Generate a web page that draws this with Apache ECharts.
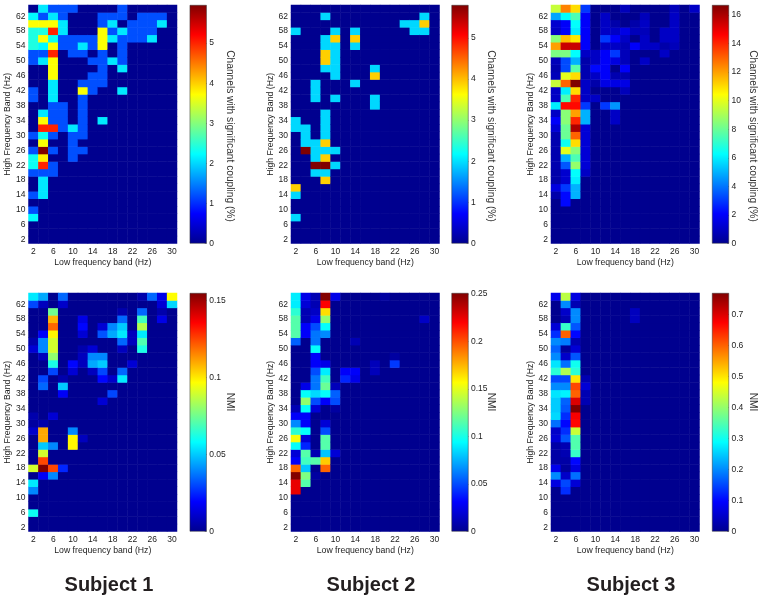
<!DOCTYPE html>
<html><head><meta charset="utf-8">
<style>html,body{margin:0;padding:0;background:#fff}#c{width:762px;height:600px}</style>
<script src="https://cdn.jsdelivr.net/npm/echarts@6/dist/echarts.min.js"></script>
</head><body><div id="c"></div>
<script>
// Each row: [high band, low band, value, low band, value, ...]; unlisted cells are 0.
const lowBands = [2,4,6,8,10,12,14,16,18,20,22,24,26,28,30];
const highBands = [2,4,6,8,10,12,14,16,18,20,22,24,26,28,30,32,34,36,38,40,42,44,46,48,50,52,54,56,58,60,62,64];
const subjects = ['Subject 1','Subject 2','Subject 3'];
const couplingTitle = 'Channels with significant coupling (%)';
const nmiTitle = 'NMI';
const couplingS1 = [
[64,4,2.1,6,1.2,8,1.2,10,1.2,20,1.2],[62,2,2.2,4,1.2,6,2.1,8,1.2,16,1.2,18,1.2,20,1.2,24,1.2,26,1.2,28,1.2],
[60,2,3.7,4,3.7,6,3.7,8,2.1,16,1.2,18,2.1,22,1.2,24,1.2,26,1.2,28,2.1],[58,2,2.4,4,2.4,6,5,8,2.1,16,3.7,18,1.2,20,2.1,22,1.2,24,1.2,26,1.2],
[56,2,2.4,4,3.7,6,2.3,8,1.2,10,1.2,12,1.2,14,1.2,16,3.7,18,2.1,20,1.2,22,1.2,24,1.2,26,2.1],[54,2,2.4,4,2.2,6,3.7,8,1.2,10,1.2,12,2.1,14,1.2,16,3.7,20,1.2],
[52,2,1.2,4,1.2,6,5,10,1.2,12,1.2,16,1.2,20,1.2],[50,2,1.2,4,2.1,6,3.7,14,1.2,16,1.2,18,2.1,20,1.2],[48,6,3.7,16,1.2,20,2.1],[46,6,3.7,14,1.2,16,1.2],
[44,6,2.1,12,1.2,14,1.2,16,1.2],[42,2,1.2,6,2.1,12,3.7,14,1.2,20,2.1],[40,2,1.2,6,2.1,12,1.2],[38,6,1.2,8,1.2,12,1.2],[36,4,2.1,6,1.2,8,1.2,12,1.2],
[34,4,3.7,6,1.2,8,1.2,12,1.2,16,2.1],[32,4,5,6,5,8,1.2,10,2.1,12,1.2],[30,2,1.2,4,2.3,6,1.2,10,1.2,12,1.2],[28,4,3.7,10,1.2],[26,2,1.2,4,5.95,6,1.2,10,1.2,12,1.2],
[24,2,2.3,4,3.8,10,1.2],[22,2,2.3,4,5,6,1.2],[20,2,1.2,4,1.2,6,1.2],[18,4,2.1],[16,4,2.1],[14,2,1.2,4,2.1],[10,2,1.2],[8,2,2.2]];
const couplingS2 = [
[62,8,1.95,28,1.95],[60,24,1.95,26,1.95,28,3.9],[58,2,1.95,10,1.95,14,1.95,26,1.95,28,1.95],[56,8,1.95,10,3.9,14,3.9],[54,8,1.95,10,1.95,14,1.95],
[52,8,3.9,10,1.95],[50,8,3.9,10,1.95],[48,8,1.95,10,1.95,18,1.95],[46,10,1.95,18,3.9],[44,6,1.95,14,1.95],[42,6,1.95],[40,6,1.95,10,1.95,18,1.95],
[38,18,1.95],[36,8,1.95],[34,2,1.95,8,1.95],[32,2,1.95,4,1.95,8,1.95],[30,4,1.95,8,1.95],[28,4,1.95,6,1.95,8,3.9],[26,4,5.8,6,1.95,8,1.95,10,1.95],
[24,6,1.95,8,3.9],[22,6,5.8,8,5.8,10,1.95],[20,6,1.95,8,1.95],[18,8,3.9],[16,2,3.9],[14,2,1.95],[8,2,1.95]];
const couplingS3 = [
[64,2,9.5,4,12.5,6,11,8,3,16,.8,26,.8,30,1],[62,2,4.8,4,6.3,6,7.5,8,2,12,1,20,.8,26,1],[60,2,1.2,4,2,6,6.3,8,2,12,1,14,.5,18,.5,20,1,26,1],
[58,2,1,4,2,6,6,8,2,12,1,14,1,16,1.6,18,.8,20,.8,24,1,26,1],[56,2,8.5,4,11.5,6,10.8,8,2,12,3,14,2,16,1,20,1,24,1,26,1],
[54,2,12,4,15.5,6,15.5,8,2,12,1,14,1,16,.7,18,2,20,1,22,1,24,.5,26,.8],[52,2,8.3,4,8.3,6,6.3,8,1,10,1,12,2,14,3,16,.8,24,1],
[50,2,.8,4,3.3,6,5,8,.5,10,1,12,2,14,1.5,16,.8,20,1],[48,2,.6,4,3.3,6,7.7,8,.6,10,2.2,12,2,16,2],[46,2,.8,4,10,6,11,8,.6,10,1,12,2,14,.6,16,.6],
[44,2,9.5,4,13,6,16.7,8,1,10,.5,12,1.6,14,1.6,16,1.6],[42,2,1,4,6,6,11,8,1,16,.8],[40,2,1,4,7.5,6,14,8,1,10,1],[38,2,6,4,14.5,6,14.5,8,3,12,3,14,4.5],
[36,2,1,4,8.5,6,12,8,5,14,1],[34,2,2,4,8.5,6,14,8,5,14,1],[32,2,1.3,4,8,6,16,8,1.3],[30,2,.6,4,8,6,13,8,1.3],[28,2,.6,4,6.5,6,11,8,1.3],
[26,2,.6,4,10,6,8.5,8,1.3],[24,2,.6,4,5,6,7.5,8,1.3],[22,2,.6,4,3.5,6,8.7,8,1.3],[20,2,.5,4,1.2,6,6.3,8,1],[18,2,.5,4,1.2,6,6],[16,2,1.5,4,3,6,5],[14,2,.5,4,2.2,6,5],[12,4,2.2]];
const nmiS1 = [
[64,2,.055,4,.045,8,.035,24,.005,26,.035,28,.015,30,.097],[62,2,.03,4,.008,8,.01,28,.012,30,.052],[60,6,.075,20,.005,24,.035,28,.005],
[58,6,.108,12,.015,20,.035,24,.068,28,.015],[56,6,.12,12,.02,16,.012,18,.04,20,.05,24,.085],[54,4,.018,6,.098,12,.012,16,.032,18,.045,20,.055,22,.008,24,.055],
[52,2,.005,4,.04,6,.09,20,.035,22,.008,24,.07],[50,2,.012,4,.04,6,.09,12,.005,14,.012,20,.008,24,.062],[48,4,.008,6,.08,12,.008,14,.04,16,.04],
[46,6,.062,10,.02,12,.008,14,.045,16,.05,22,.012],[44,6,.03,10,.012,14,.008,16,.03,20,.035],[42,4,.03,8,.005,16,.02,18,.01,20,.055],[40,4,.035,8,.05],[38,8,.018,18,.03],[36,16,.012],
[32,2,.005,6,.012],[30,2,.003,4,.005],[28,2,.01,4,.11,10,.04],[26,4,.11,10,.098,12,.008],[24,4,.05,6,.04,10,.098],[22,4,.09],[20,4,.125],[18,2,.09,4,.155,6,.125,8,.025],
[16,4,.018,6,.04],[14,2,.055],[12,2,.04],[6,2,.06]];
const nmiS2 = [
[64,2,.09,4,.025,6,.01,8,.25,10,.025,20,.005],[62,2,.09,4,.02,6,.01,8,.22],[60,2,.105,4,.01,6,.015,8,.165],[58,2,.115,4,.01,6,.025,8,.13,28,.015],
[56,2,.115,4,.03,6,.05,8,.095],[54,2,.115,4,.03,6,.06,8,.065],[52,2,.055,6,.06,14,.01],[50,6,.095],[48,6,.03,22,.005],[46,6,.03,8,.025,18,.012,22,.045],
[44,6,.05,8,.09,12,.03,14,.03,18,.012],[42,6,.06,8,.11,12,.04,14,.025],[40,4,.025,6,.06,8,.12,10,.012],[38,4,.095,6,.085,8,.095,10,.055],[36,4,.13,6,.05,8,.03,10,.05],
[34,2,.01,4,.095,6,.02,10,.005],[32,2,.03,4,.03],[30,2,.065,4,.03,8,.02],[28,2,.105,4,.095,8,.05],[26,2,.155,4,.02,8,.115],[24,2,.095,4,.04,8,.115],
[22,2,.02,4,.115,6,.01,8,.08,10,.02],[20,2,.03,4,.11,6,.115,8,.17],[18,2,.195,4,.08,8,.195],[16,2,.25,4,.125,6,.005],[14,2,.225,4,.115],[12,2,.225]];
const nmiS3 = [
[64,2,.08,4,.43,6,.07],[62,4,.2,6,.03],[60,4,.05,6,.2,18,.04],[58,4,.03,6,.2,18,.04],[56,2,.06,4,.33,6,.16],[54,2,.13,4,.6,6,.1],[52,2,.2,4,.19,6,.03],
[50,2,.17,4,.01,6,.06],[48,2,.2,4,.05,6,.16],[46,2,.27,4,.18,6,.3],[44,2,.32,4,.42,6,.32],[42,2,.15,4,.15,6,.5,8,.03],[40,2,.2,4,.2,6,.62,8,.06],[38,2,.27,4,.28,6,.6,8,.03],
[36,2,.25,4,.17,6,.7,8,.03],[34,2,.25,4,.16,6,.77],[32,2,.26,4,.13,6,.68],[30,2,.18,4,.1,6,.67],[28,2,.05,4,.13,6,.44],[26,2,.06,4,.16,6,.35],[24,2,.02,4,.03,6,.35],
[22,2,.02,4,.03,6,.33],[20,2,.02,4,.02,6,.1],[18,2,.08,4,.01,6,.07],[16,2,.2,4,.05,6,.18],[14,2,.07,4,.15,6,.06],[12,4,.13]];
const panelRows = [couplingS1,couplingS2,couplingS3,nmiS1,nmiS2,nmiS3];
const colorMax = [5.95,5.8,16.7,.155,.251,.77];
const colorStep = [1,1,2,.05,.05,.1];

const jet = ['#00008f','#0000ff','#0080ff','#00ffff','#80ff80','#ffff00','#ff8000','#ff0000','#800000'];
const font = '"Liberation Sans",Arial,sans-serif';
const ink = '#222';
const W = 148.5, H = 238.5, barW = 17;
const lefts = [28.5,291,551], tops = [5,293], barLefts = [189.7,451.5,712], titleX = [229.5,491,753];
const opt = {animation:false,backgroundColor:'#fff',grid:[],xAxis:[],yAxis:[],series:[],visualMap:[],title:[],graphic:[]};
panelRows.forEach((rows,p)=>{
  const col = p%3, rowI = p<3?0:1, top = tops[rowI];
  const m = new Map();
  rows.forEach(r=>{for(let i=1;i<r.length;i+=2) m.set(r[i]+'_'+r[0],r[i+1]);});
  const cells = [];
  lowBands.forEach((l,i)=>highBands.forEach((h,j)=>cells.push([i,j,m.get(l+'_'+h)||0])));
  const gi = opt.grid.length;
  opt.grid.push({left:lefts[col],top,width:W,height:H,containLabel:false});
  opt.xAxis.push({type:'category',gridIndex:gi,data:lowBands.map(String),name:'Low frequency band (Hz)',nameLocation:'middle',nameGap:15,
    nameTextStyle:{fontFamily:font,fontSize:8.7,color:ink},axisLine:{show:false},axisTick:{show:false},splitLine:{show:false},
    axisLabel:{interval:1,fontFamily:font,fontSize:8.5,color:ink,margin:4}});
  opt.yAxis.push({type:'category',gridIndex:gi,data:highBands.map(String),name:'High Frequency Band (Hz)',nameLocation:'middle',nameGap:15,
    nameTextStyle:{fontFamily:font,fontSize:8.7,color:ink},axisLine:{show:false},axisTick:{show:false},splitLine:{show:false},
    axisLabel:{interval:1,fontFamily:font,fontSize:8.5,color:ink,margin:3}});
  const si = opt.series.length;
  opt.series.push({type:'heatmap',xAxisIndex:gi,yAxisIndex:gi,data:cells,silent:true,itemStyle:{borderWidth:0}});
  opt.visualMap.push({show:false,type:'continuous',min:0,max:colorMax[p],seriesIndex:si,dimension:2,inRange:{color:jet}});
  // colour bar
  const bi = opt.grid.length;
  opt.grid.push({left:barLefts[col],top,width:barW,height:H});
  opt.xAxis.push({type:'category',gridIndex:bi,data:['c'],show:false});
  opt.yAxis.push({type:'value',gridIndex:bi,position:'right',min:0,max:colorMax[p],interval:colorStep[p],splitLine:{show:false},axisLine:{show:false},
    axisTick:{show:true,inside:true,length:2,lineStyle:{color:'#444',width:.5}},
    axisLabel:{showMaxLabel:false,fontFamily:font,fontSize:8.5,color:ink,margin:2.5}});
  opt.series.push({type:'bar',xAxisIndex:bi,yAxisIndex:bi,data:[colorMax[p]],barWidth:'100%',silent:true,
    itemStyle:{borderColor:'#333',borderWidth:.5,color:{type:'linear',x:0,y:1,x2:0,y2:0,colorStops:jet.map((c,i)=>({offset:i/8,color:c}))}}});
  opt.graphic.push({type:'text',x:titleX[col],y:rowI?402:136,rotation:-Math.PI/2,silent:true,
    style:{text:p<3?couplingTitle:nmiTitle,font:'10.2px '+font,fill:'#333',textAlign:'center',textVerticalAlign:'middle'}});
});
subjects.forEach((s,i)=>opt.title.push({text:s,left:[104,366,626][i],top:570,textAlign:'center',
  textStyle:{fontFamily:font,fontSize:20,fontWeight:'bold',color:'#231f20'}}));
echarts.init(document.getElementById('c'),null,{renderer:'canvas'}).setOption(opt);
</script></body></html>
